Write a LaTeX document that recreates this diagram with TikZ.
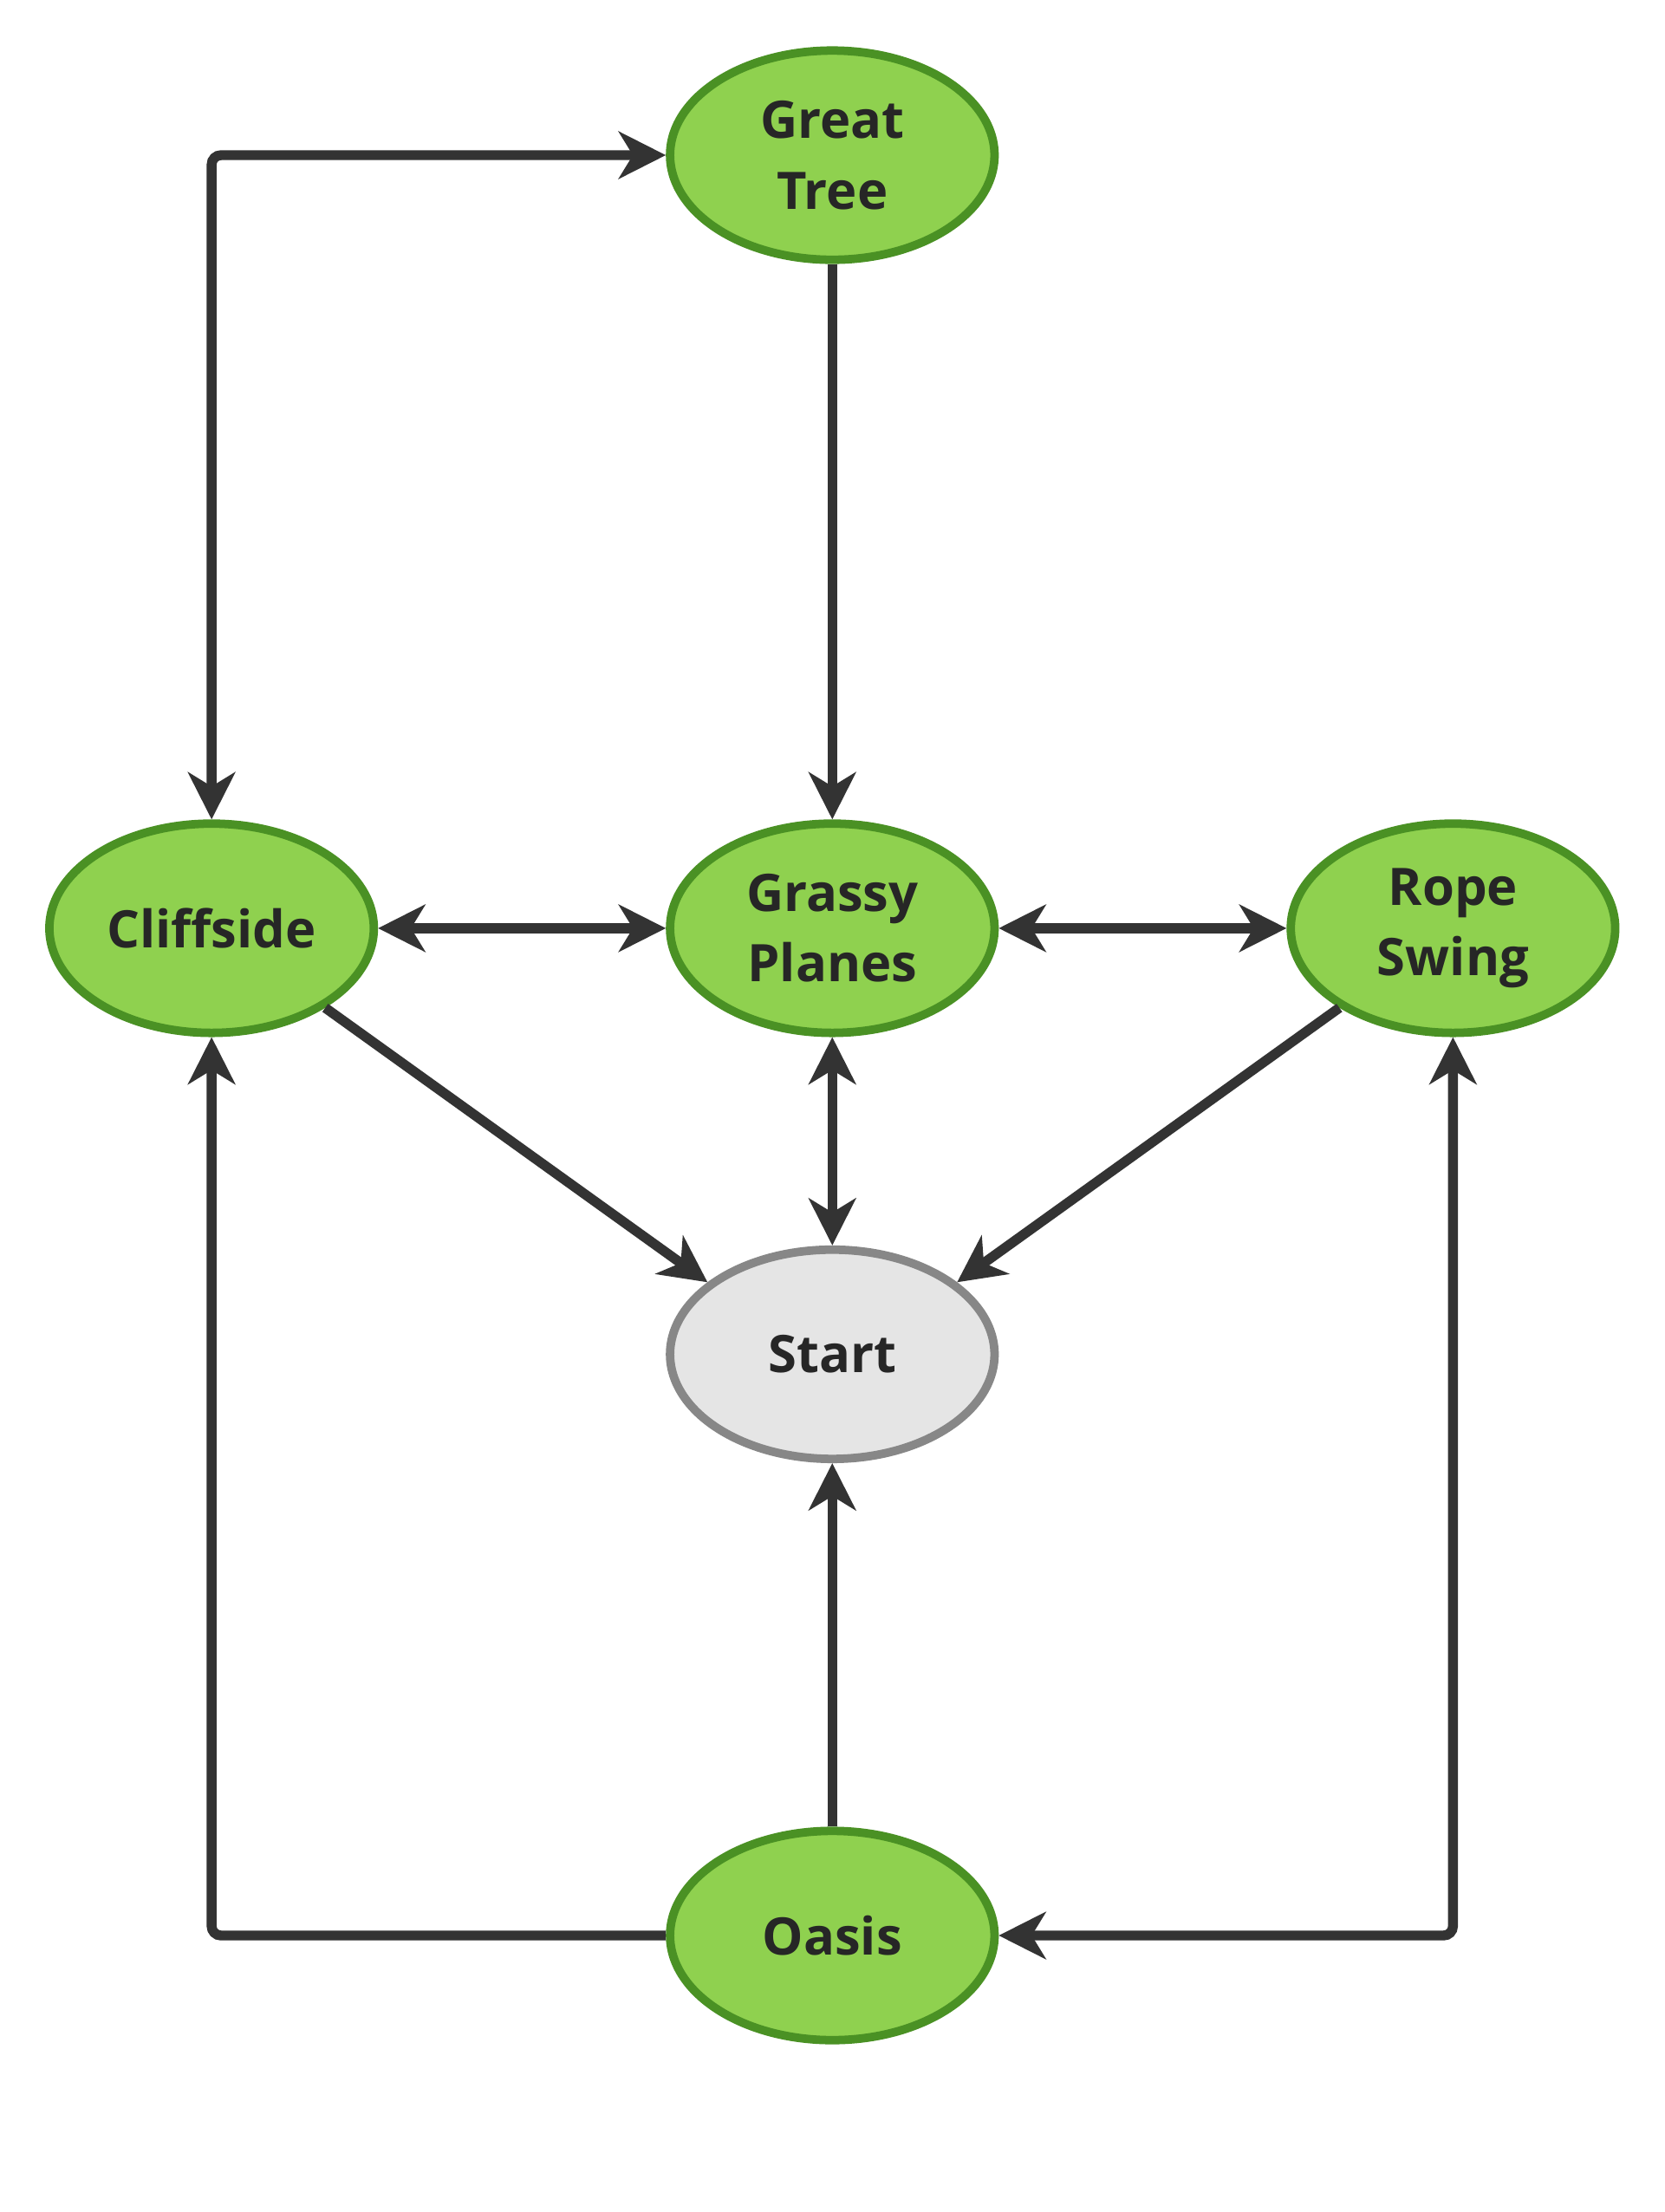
\documentclass[tikz,border=0pt]{standalone}
\usepackage{fontspec}
\setmainfont{Open Sans}
\usetikzlibrary{shapes.geometric,arrows.meta}
\definecolor{gfill}{HTML}{8FD14F}
\definecolor{gdraw}{HTML}{4A9124}
\definecolor{edge}{HTML}{333333}
\begin{document}
\begin{tikzpicture}[x=0.6pt,y=-0.6pt,
  node/.style={ellipse,draw=gdraw,fill=gfill,line width=3.6pt,minimum width=138pt,minimum height=89pt,inner sep=0pt,align=center,font=\fontsize{22}{30}\selectfont\bfseries,text=black!85},
  startn/.style={node,draw=black!47,fill=black!10},
  e/.style={draw=edge,line width=4.2pt,rounded corners=4pt,arrows={-Stealth[length=20pt,width=20pt,inset=6pt]}},
  b/.style={e,arrows={Stealth[length=20pt,width=20pt,inset=6pt]-Stealth[length=20pt,width=20pt,inset=6pt]}}]
\path[use as bounding box,fill=white] (0,0) rectangle (1180,1568);
\node[node] (gt) at (590,110) {Great\\Tree};
\node[node] (cl) at (150,658) {Cliffside};
\node[node] (gp) at (590,658) {Grassy\\Planes};
\node[node] (rs) at (1030,658) {Rope\\Swing};
\node[startn] (st) at (590,960) {Start};
\node[node] (oa) at (590,1372) {Oasis};
\draw[b] (cl.north) |- (gt.west);
\draw[e] (gt) -- (gp);
\draw[b] (cl) -- (gp);
\draw[b] (gp) -- (rs);
\draw[b] (gp) -- (st);
\draw[e] (cl.-35) -- (st.150);
\draw[e] (rs.-145) -- (st.30);
\draw[e] (oa) -- (st);
\draw[e] (oa.west) -| (cl.south);
\draw[b] (rs.south) |- (oa.east);
\end{tikzpicture}
\end{document}
